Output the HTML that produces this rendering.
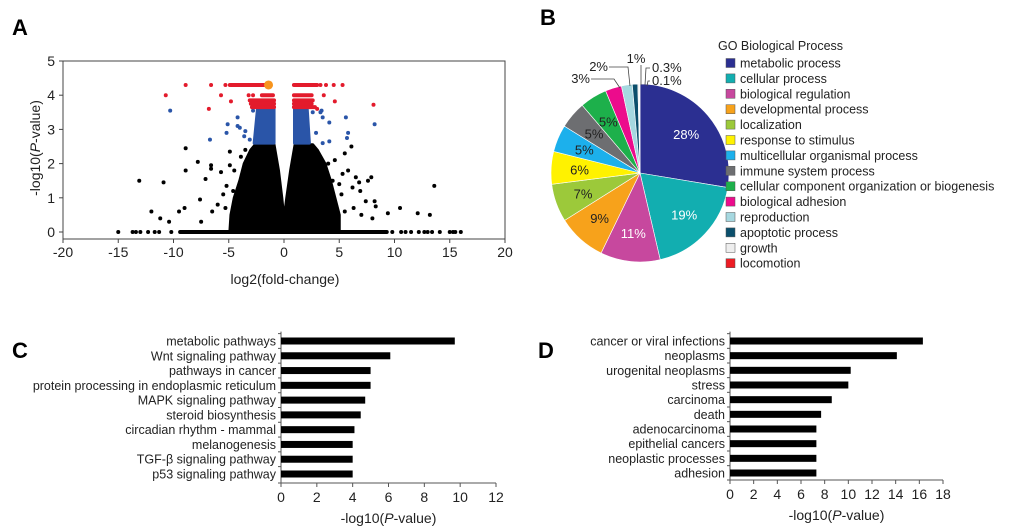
<!DOCTYPE html>
<html><head><meta charset="utf-8"><style>
html,body{margin:0;padding:0;background:#fff;}
svg{display:block;font-family:"Liberation Sans",Arial,sans-serif;}
</style></head><body>
<svg id="fig" width="1024" height="528" viewBox="0 0 1024 528">
<text x="12" y="35" font-size="22" font-weight="bold">A</text>
<text x="540" y="25" font-size="22" font-weight="bold">B</text>
<text x="12" y="358" font-size="22" font-weight="bold">C</text>
<text x="538" y="358" font-size="22" font-weight="bold">D</text>
<g id="volcano"></g>
<g id="pie"></g>
<g id="barC"></g>
<g id="barD"></g>
</svg>
<script>
// ---------- Panel A data ----------
const volcXTicks=[-20,-15,-10,-5,0,5,10,15,20];
const volcYTicks=[0,1,2,3,4,5];
const blackX=[-13.1,-10.9,-12,-11.2,-10.4,-8.9,-8.9,-7.8,-9.5,-9,-7.5,-7.6,-7.1,-6.6,-6.6,-5.7,-5.2,-4.9,-4.9,-4.5,-6,-6.5,-5.5,-4.6,-3.9,-3.5,-5.3,13.6,10.5,12.1,13.2,9.4,8.2,8.3,7.9,7.6,6.5,6.2,6.8,6.9,7.4,6.1,5.5,5.8,5,5.2,4.6,4,5.3,4.4,8,7,5.5,4.5,6.3];
const blackY=[1.5,1.45,0.6,0.4,0.3,2.45,1.8,2.05,0.6,0.7,0.3,0.95,1.55,1.95,1.85,1.75,1.35,2.35,1.95,1.8,0.8,0.6,1.1,1.2,2.2,2.4,0.7,1.35,0.7,0.55,0.5,0.55,0.9,0.75,1.6,1.5,1.6,1.3,1.45,1.2,0.9,2.5,2.3,1.8,1.4,1.1,2.1,2.0,1.7,1.5,0.4,0.5,0.6,0.8,0.7];
const zeroRange=[-9.4,9.3];
const zeroX=[-15,-13.7,-13.4,-13,-12.3,-11.7,-11.3,-10.2,9.8,10.6,11,11.5,12.2,12.7,13,13.4,14.1,15,15.3,15.5,16];
const cloudX=[-4.9,-4.8,-4.5,-4.0,-3.6,-3.0,-2.6,-0.9,-0.5,-0.2,0,0.25,0.6,1.0,2.6,3.0,3.7,4.2,4.6,5.0,5.0];
const cloudY=[0,0.5,1.0,1.5,2.0,2.4,2.55,2.55,1.8,1.0,0.35,1.0,1.8,2.55,2.55,2.4,2.0,1.5,1.0,0.5,0];
const blueLeftX=[-2.7,-0.9,-0.9,-2.4], blueLeftY=[2.6,2.6,3.6,3.6];
const blueRightX=[0.95,2.3,2.1,0.95], blueRightY=[2.6,2.6,3.6,3.6];
const blueX=[-10.3,-6.7,-5.2,-5.1,-4.2,-4.2,-4,-3.5,-3.6,-3.1,-2.8,3.4,3.3,2.6,3.5,4.1,5.6,5.8,5.7,4.1,3.5,8.2,2.9];
const blueY=[3.55,2.7,2.9,3.15,3.35,3.1,3.05,2.95,2.8,2.7,3.55,3.55,3.5,3.5,3.35,3.2,3.35,2.9,2.75,2.65,2.6,3.15,2.9];
const redSegX1=[-4.8,0.9,-2,0.9,-3.1,-3.0,-2.9,0.9,0.9,0.9];
const redSegX2=[-1.6,3.0,-1,2.5,-0.9,-0.9,-0.9,2.6,2.5,2.8];
const redSegY=[4.3,4.3,4.0,4.0,3.85,3.75,3.65,3.85,3.75,3.65];
const redX=[-8.9,-6.6,-5.3,-4.9,3.3,3.8,4.5,5.3,-10.7,-5.7,-3.2,-2.8,3.6,-6.8,-4.8,8.1,4.6,3.0];
const redY=[4.3,4.3,4.3,4.3,4.3,4.3,4.3,4.3,4.0,4.0,4.0,4.0,4.0,3.6,3.82,3.72,3.82,3.6];
const highlightX=[-1.4], highlightY=[4.3];

// ---------- Panel B data ----------
const pieLabels=["metabolic process","cellular process","biological regulation","developmental process","localization","response to stimulus","multicellular organismal process","immune system process","cellular component organization or biogenesis","biological adhesion","reproduction","apoptotic process","growth","locomotion"];
const pieValues=[28,19,11,9,7,6,5,5,5,3,2,1,0.3,0.1];
const pieText=["28%","19%","11%","9%","7%","6%","5%","5%","5%","3%","2%","1%","0.3%","0.1%"];
const pieColors=["#2b2f91","#12aeb0","#c7489e","#f7a21b","#9cc93a","#fff200","#1cb0ec","#6d6e71","#1db04b","#ec0c8c","#a6d8e0","#0b4f6c","#eeeeee","#ed1c24"];

// ---------- Panel C data ----------
const cLabels=["metabolic pathways","Wnt signaling pathway","pathways in cancer","protein processing in endoplasmic reticulum","MAPK signaling pathway","steroid biosynthesis","circadian rhythm - mammal","melanogenesis","TGF-β signaling pathway","p53 signaling pathway"];
const cValues=[9.7,6.1,5.0,5.0,4.7,4.45,4.1,4.0,4.0,4.0];
const cTicks=[0,2,4,6,8,10,12];
// ---------- Panel D data ----------
const dLabels=["cancer or viral infections","neoplasms","urogenital neoplasms","stress","carcinoma","death","adenocarcinoma","epithelial cancers","neoplastic processes","adhesion"];
const dValues=[16.3,14.1,10.2,10.0,8.6,7.7,7.3,7.3,7.3,7.3];
const dTicks=[0,2,4,6,8,10,12,14,16,18];

const NS="http://www.w3.org/2000/svg";
function mk(parent,tag,attrs,txt){const e=document.createElementNS(NS,tag);for(const k in attrs)e.setAttribute(k,attrs[k]);if(txt!==undefined)e.textContent=txt;parent.appendChild(e);return e;}

// ---------- Volcano ----------
(function(){
const g=document.getElementById('volcano');
const X0=63,X1=505,Y0=232,Y5=61;
const sx=v=>X0+(v+20)/40*(X1-X0);
const sy=v=>Y0+(v)/5*(Y5-Y0);
let r=mk(g,'rect',{x:X0,y:Y5,width:X1-X0,height:239-Y5,fill:'none',stroke:'#444','stroke-width':1});


volcXTicks.forEach(t=>{mk(g,'line',{x1:sx(t),x2:sx(t),y1:239,y2:243,stroke:'#444'});
 const tx=mk(g,'text',{x:sx(t),y:257,'font-size':14,'text-anchor':'middle',fill:'#222'},t);
 
 });
volcYTicks.forEach(t=>{mk(g,'line',{x1:X0-4,x2:X0,y1:sy(t),y2:sy(t),stroke:'#444'});
 const tx=mk(g,'text',{x:X0-8,y:sy(t)+5,'font-size':14,'text-anchor':'end',fill:'#222'},t);
 
 });
let t1=mk(g,'text',{x:285,y:284,'font-size':14,'text-anchor':'middle',fill:'#222'},'log2(fold-change)');


let t2=mk(g,'text',{transform:'translate(40,148) rotate(-90)','font-size':14,'text-anchor':'middle',fill:'#222'});


t2.innerHTML='-log10(<tspan font-style="italic">P</tspan>-value)';
let zl=mk(g,'line',{x1:sx(zeroRange[0]),x2:sx(zeroRange[1]),y1:sy(0),y2:sy(0),stroke:'#000','stroke-width':4,'stroke-linecap':'round'});


zeroX.forEach(x=>{const c=mk(g,'circle',{cx:sx(x),cy:sy(0),r:2,fill:'#000'});
 
 });
let pts=cloudX.map((x,i)=>sx(x)+','+sy(cloudY[i])).join(' ');
let cl=mk(g,'polygon',{points:pts,fill:'#000',stroke:'#000','stroke-width':3,'stroke-linejoin':'round'});


blackX.forEach((x,i)=>{const c=mk(g,'circle',{cx:sx(x),cy:sy(blackY[i]),r:2,fill:'#000'});
 
 });
[[blueLeftX,blueLeftY],[blueRightX,blueRightY]].forEach(([bx,by])=>{
 const p=mk(g,'polygon',{points:bx.map((x,i)=>sx(x)+','+sy(by[i])).join(' '),fill:'#2a55a8',stroke:'#2a55a8','stroke-width':3,'stroke-linejoin':'round'});
 
 });
blueX.forEach((x,i)=>{const c=mk(g,'circle',{cx:sx(x),cy:sy(blueY[i]),r:2,fill:'#2a55a8'});
 
 });
redSegX1.forEach((x,i)=>{const l=mk(g,'line',{x1:sx(x),x2:sx(redSegX2[i]),y1:sy(redSegY[i]),y2:sy(redSegY[i]),stroke:'#e31b2c','stroke-width':4,'stroke-linecap':'round'});
 
 });
redX.forEach((x,i)=>{const c=mk(g,'circle',{cx:sx(x),cy:sy(redY[i]),r:2,fill:'#e31b2c'});
 
 });
highlightX.forEach((x,i)=>{const c=mk(g,'circle',{cx:sx(x),cy:sy(highlightY[i]),r:4.5,fill:'#f7941d'});
 
 });
})();

// ---------- Pie ----------
(function(){
const g=document.getElementById('pie');
const cx=640,cy=173,R=89;
const tot=pieValues.reduce((a,b)=>a+b,0);
let a0=0;
pieValues.forEach((v,i)=>{
 const a1=a0+v/tot*Math.PI*2;
 const p=(a)=>[cx+R*Math.sin(a),cy-R*Math.cos(a)];
 const [x0,y0]=p(a0),[x1,y1]=p(a1);
 const large=(a1-a0)>Math.PI?1:0;
 const s=mk(g,'path',{d:`M${cx},${cy} L${x0},${y0} A${R},${R} 0 ${large} 1 ${x1},${y1} Z`,fill:pieColors[i],stroke:'#fff','stroke-width':0.6});
 
 
 const am=(a0+a1)/2;
 if(i<9){
  const rr=R*0.68;
  const t=mk(g,'text',{x:cx+rr*Math.sin(am),y:cy-rr*Math.cos(am)+5,'font-size':13,'text-anchor':'middle',fill:(i<3?'#fff':'#222')},pieText[i]);
  
  
 }
 a0=a1;
});
const ol=[["3%",590,79,614,79,620,88],["2%",608,67,628,67,630,86],["1%",636,59,641,61,641,85],["0.3%",652,68,646,68,645,85],["0.1%",652,81,648,81,647,86]];
ol.forEach((o,k)=>{
 const anchor=k<2?'end':(k==2?'middle':'start');
 const t=mk(g,'text',{x:o[1],y:o[2]+4,'font-size':13,'text-anchor':anchor,fill:'#222'},o[0]);
 
 
 if(k==2){mk(g,'polyline',{points:`${o[5]},${o[6]} ${o[5]},${o[2]+6}`,fill:'none',stroke:'#444','stroke-width':0.8});}
 else{mk(g,'polyline',{points:`${k<2?o[1]+1:o[1]-2},${o[2]} ${o[3]},${o[4]} ${o[5]},${o[6]}`,fill:'none',stroke:'#444','stroke-width':0.8});}
});
const lt=mk(g,'text',{x:718,y:50,'font-size':12.5,fill:'#222'},'GO Biological Process');


pieLabels.forEach((l,i)=>{
 const y=63+i*15.4;
 const e=mk(g,'g',{});
 
 
 mk(e,'rect',{x:726,y:y-4.5,width:9,height:9,fill:pieColors[i],stroke:'#555','stroke-width':0.5});
 mk(e,'text',{x:740,y:y+4.5,'font-size':12.5,fill:'#222'},l);
});
})();

// ---------- Bars ----------
function bars(id,labels,values,ticks,x0,x1,yFirst,yLast,axisY,lblX){
 const g=document.getElementById(id);
 const max=ticks[ticks.length-1];
 const sx=v=>x0+v/max*(x1-x0);
 const step=(yLast-yFirst)/(labels.length-1);
 const a=mk(g,'line',{x1:x0,x2:x0,y1:yFirst-step/2-2,y2:axisY,stroke:'#555'});
 
 
 const b=mk(g,'line',{x1:x0,x2:x1,y1:axisY,y2:axisY,stroke:'#555'});
 
 
 labels.forEach((l,i)=>{
  const y=yFirst+i*step;
  mk(g,'line',{x1:x0-3,x2:x0,y1:y-step/2,y2:y-step/2,stroke:'#555'});
  const r=mk(g,'rect',{x:x0,y:y-3.5,width:sx(values[i])-x0,height:7,fill:'#000'});
  
  
  const t=mk(g,'text',{x:lblX,y:y+4.5,'font-size':12.5,'text-anchor':'end',fill:'#222'},l);
  
  
 });
 mk(g,'line',{x1:x0-3,x2:x0,y1:axisY,y2:axisY,stroke:'#555'});
 ticks.forEach(t=>{
  mk(g,'line',{x1:sx(t),x2:sx(t),y1:axisY,y2:axisY+4,stroke:'#555'});
  const tx=mk(g,'text',{x:sx(t),y:axisY+19,'font-size':14,'text-anchor':'middle',fill:'#222'},t);
  
  
 });
 const tt=mk(g,'text',{x:(x0+x1)/2,y:axisY+40,'font-size':14,'text-anchor':'middle',fill:'#222'});
 
 
 tt.innerHTML='-log10(<tspan font-style="italic">P</tspan>-value)';
}
bars('barC',cLabels,cValues,cTicks,281,496,341,474,483,276);
bars('barD',dLabels,dValues,dTicks,730,943,341,473,480,725);
</script>
</body></html>
